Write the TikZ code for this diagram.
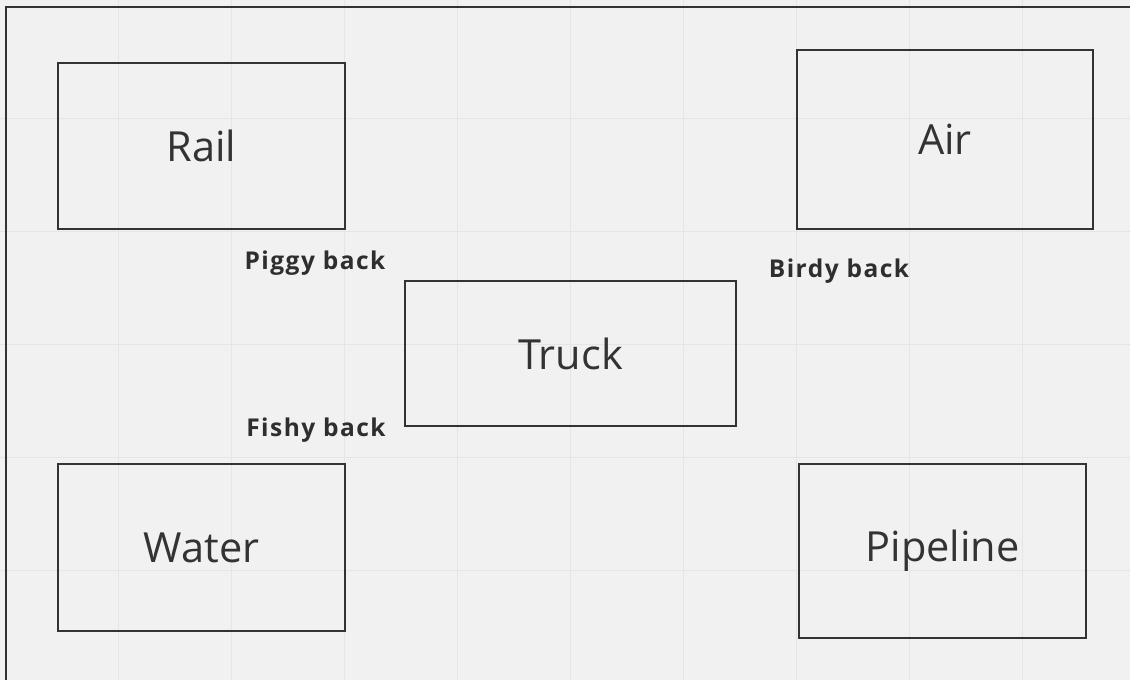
\documentclass[tikz,border=0pt]{standalone}
\usepackage{fontspec}
\setmainfont{Open Sans}
\newfontfamily\linkfont[LetterSpace=6]{Open Sans}
\usepackage{tikz}

\definecolor{boardbg}{HTML}{F1F1F1}
\definecolor{gridgray}{HTML}{E5E5E5}
\definecolor{inkgray}{HTML}{333333}

\begin{document}
\begin{tikzpicture}[x=1pt,y=-1pt,
	mode/.style={shape=rectangle,draw=inkgray,line width=1.8pt,inner sep=0pt,outer sep=0pt,
		text=inkgray,font=\fontsize{41.5}{46}\selectfont},
	link/.style={text=inkgray!90!black,font=\linkfont\bfseries\fontsize{24.5}{28}\selectfont}]
	\useasboundingbox (0,0) rectangle (1130,680);
	\fill[boardbg] (0,0) rectangle (1130,680);
	% board grid
	\foreach \gx in {118,231,344,457,570,683,796,909,1022}
		\draw[gridgray,line width=1pt] (\gx,0) -- (\gx,680);
	\foreach \gy in {118,231,344,457,570}
		\draw[gridgray,line width=1pt] (0,\gy) -- (1130,\gy);
	\draw[inkgray,line width=2pt] (6,680) -- (6,7) -- (1130,7);

	\node[mode,minimum width=287,minimum height=166] (rail)     at (201.5,146)   {Rail};
	\node[mode,minimum width=296,minimum height=179] (air)      at (945,139.5)   {Air};
	\node[mode,minimum width=331,minimum height=145] (truck)    at (570.5,353.5) {Truck};
	\node[mode,minimum width=287,minimum height=167] (water)    at (201.5,547.5) {Water};
	\node[mode,minimum width=287,minimum height=174] (pipeline) at (942.5,551)   {Pipeline};

	\node[link] (piggy) at (315,263) {Piggy back};
	\node[link] (birdy) at (839,271) {Birdy back};
	\node[link] (fishy) at (316,430) {Fishy back};
\end{tikzpicture}
\end{document}
